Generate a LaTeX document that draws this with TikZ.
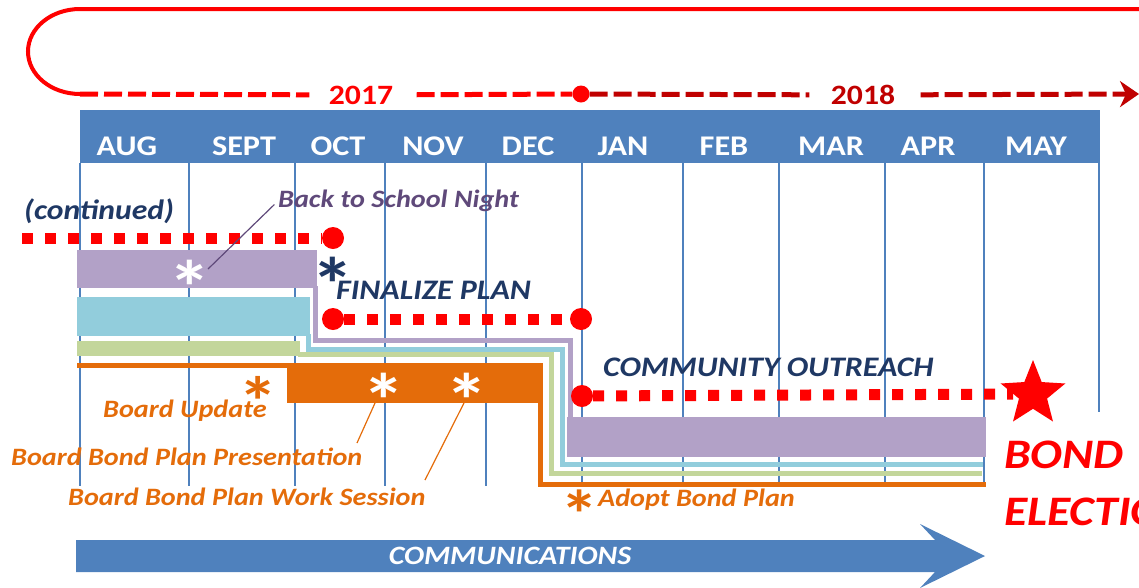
\documentclass[tikz,border=0pt]{standalone}
\usepackage{fontspec}
\setmainfont{Carlito}[FakeStretch=1.13]
\usetikzlibrary{arrows.meta,shapes.geometric}

\definecolor{hdrblue}{HTML}{4F81BD}
\definecolor{darkred}{HTML}{C00000}
\definecolor{navy}{HTML}{1F3864}
\definecolor{plumtext}{HTML}{5F497A}
\definecolor{plum}{HTML}{B2A1C7}
\definecolor{aqua}{HTML}{92CDDC}
\definecolor{sage}{HTML}{C3D69B}
\definecolor{pumpkin}{HTML}{E46C0A}

\tikzset{
  month/.style={text=white, font=\bfseries\fontsize{28.5}{30}\selectfont},
  yearlabel/.style={font=\bfseries\fontsize{28}{30}\selectfont},
  phase/.style={text=navy, anchor=west, inner sep=0pt, font=\bfseries\itshape\fontsize{28.3}{30}\selectfont},
  event/.style={text=pumpkin, anchor=west, inner sep=0pt, font=\bfseries\itshape\fontsize{25}{28}\selectfont},
  milestone/.style={circle, fill=red, inner sep=0pt, minimum size=22pt},
  dots/.style={red, line width=11pt, dash pattern=on 11pt off 12pt},
  yearline/.style={line width=5pt, dash pattern=on 18pt off 6pt},
  band/.style={line width=5pt, line join=miter},
  starmark/.style={inner sep=0pt, font=\bfseries\fontsize{76}{76}\selectfont},
}

\begin{document}
\begin{tikzpicture}[x=1pt, y=-1pt]
    \useasboundingbox (0,0) rectangle (1139,587);
    \clip (0,0) rectangle (1139,587);

    % Draw the loop and the years
    \coordinate (loopend) at (1139,9);
    \coordinate (loopstart) at (80,9);
    \coordinate (loopfoot) at (80,94);
    \coordinate (yearend) at (1139,94);
    \draw[red, line width=4pt] (loopend) -- (loopstart) arc[start angle=270, end angle=90, x radius=52, y radius=42.5];
    \node[yearlabel, text=red] (y17) at (361,95) {2017};
    \node[yearlabel, text=darkred] (y18) at (863,95) {2018};
    \node[milestone, minimum size=17pt] (newyear) at (581,94) {};
    \draw[red, yearline, shorten >=16pt] (loopfoot) -- (y17);
    \draw[red, yearline, shorten <=20pt] (y17) -- (newyear);
    \draw[darkred, yearline, shorten >=18pt] (newyear) -- (y18);
    \draw[darkred, yearline, shorten <=22pt, -{Stealth[length=19pt, width=26pt, inset=6pt]}] (y18) -- (yearend);

    % Draw the month header and the column lines
    \fill[hdrblue] (80,110) rectangle (1100,163);
    \foreach \x in {80,189,295,385,486,582,683,779,885,984}
        \draw[hdrblue, line width=2pt] (\x,163) -- (\x,486);
    \draw[hdrblue, line width=2pt] (1099,163) -- (1099,412);
    \foreach \m/\x in {AUG/127,SEPT/244,OCT/338,NOV/433,DEC/528,JAN/623,FEB/724,MAR/831,APR/928,MAY/1036}
        \node[month] (\m) at (\x,146) {\m};

    % Draw the bands
    \fill[plum] (77,250) rectangle (317,288);
    \draw[plum, band] (315,286) -- (315,340.5) -- (570,340.5) -- (570,419);
    \fill[plum] (567,417) rectangle (986,457);
    \fill[aqua] (77,297) rectangle (310,336);
    \draw[aqua, band] (308,334) -- (308,349) -- (562.5,349) -- (562.5,464) -- (983,464);
    \fill[sage] (77,341) rectangle (300,356);
    \draw[sage, band] (298,354.5) -- (551,354.5) -- (551,473) -- (982,473);
    \draw[pumpkin, band] (77,365.5) -- (290,365.5);
    \fill[pumpkin] (287,363) rectangle (543.3,403);
    \draw[pumpkin, band] (540.8,401) -- (540.8,484.5) -- (986,484.5);

    % Milestones and dotted lines
    \coordinate (contd) at (22,238);
    \node[milestone] (bts) at (333,238) {};
    \node[milestone] (fp1) at (333,319) {};
    \node[milestone] (fp2) at (581,319) {};
    \node[milestone] (co1) at (582,396) {};
    \node[star, star points=5, star point ratio=2.3, fill=red, inner sep=0pt, minimum size=68pt] (vote) at (1033,394) {};
    \draw[dots] (contd) -- (bts);
    \draw[dots] (fp1) -- (fp2);
    \draw[dots] (co1) -- (vote);

    % Phase labels
    \node[phase, font=\bfseries\itshape\fontsize{28}{30}\selectfont] (cont) at (24,211) {(continued)};
    \node[phase] (final) at (336,290) {FINALIZE PLAN};
    \node[phase] (outreach) at (603,367) {COMMUNITY OUTREACH};
    \node[starmark, text=navy] (fpstar) at (333,284) {*};

    % Back to school night
    \node[starmark, text=white] (btsstar) at (190,287) {*};
    \node[phase, text=plumtext, font=\bfseries\itshape\fontsize{25}{27}\selectfont] (btslabel) at (278,201) {Back to School Night};
    \coordinate (btstip) at (208,269);
    \draw[plumtext, line width=1.2pt, shorten <=5pt] (btslabel.west) -- (btstip);

    % Board events
    \node[starmark, text=pumpkin, font=\bfseries\fontsize{70}{70}\selectfont] (bustar) at (258,401) {*};
    \node[starmark, text=white] (prstar) at (384,400) {*};
    \node[starmark, text=white] (wsstar) at (467,400) {*};
    \node[event] (update) at (103,411) {Board Update};
    \node[event] (present) at (11,457) {Board Bond Plan Presentation};
    \node[event] (work) at (68,497) {Board Bond Plan Work Session};
    \node[starmark, text=pumpkin, font=\bfseries\fontsize{68}{68}\selectfont] (adoptstar) at (580,514) {*};
    \node[event] (adopt) at (598,500) {Adopt Bond Plan};
    \coordinate (prfoot) at (357,443);
    \coordinate (wsfoot) at (425,480);
    \coordinate (prtop) at (375,403);
    \coordinate (wstop) at (464,403);
    \draw[pumpkin, line width=1.2pt] (prtop) -- (prfoot);
    \draw[pumpkin, line width=1.2pt] (wstop) -- (wsfoot);

    % Communications arrow
    \fill[hdrblue] (76,540) -- (935,540) -- (920,524) -- (985,556) -- (920,588) -- (935,572) -- (76,572) -- cycle;
    \node[text=white, font=\bfseries\itshape\fontsize{26.5}{28}\selectfont] (comms) at (510,556) {COMMUNICATIONS};

    % Bond election
    \node[anchor=west, inner sep=0pt, text=red, font=\bfseries\itshape\fontsize{42}{44}\selectfont] (bond) at (1004,455) {BOND};
    \node[anchor=west, inner sep=0pt, text=red, font=\bfseries\itshape\fontsize{42}{44}\selectfont] (election) at (1004,512) {ELECTION};
\end{tikzpicture}
\end{document}
